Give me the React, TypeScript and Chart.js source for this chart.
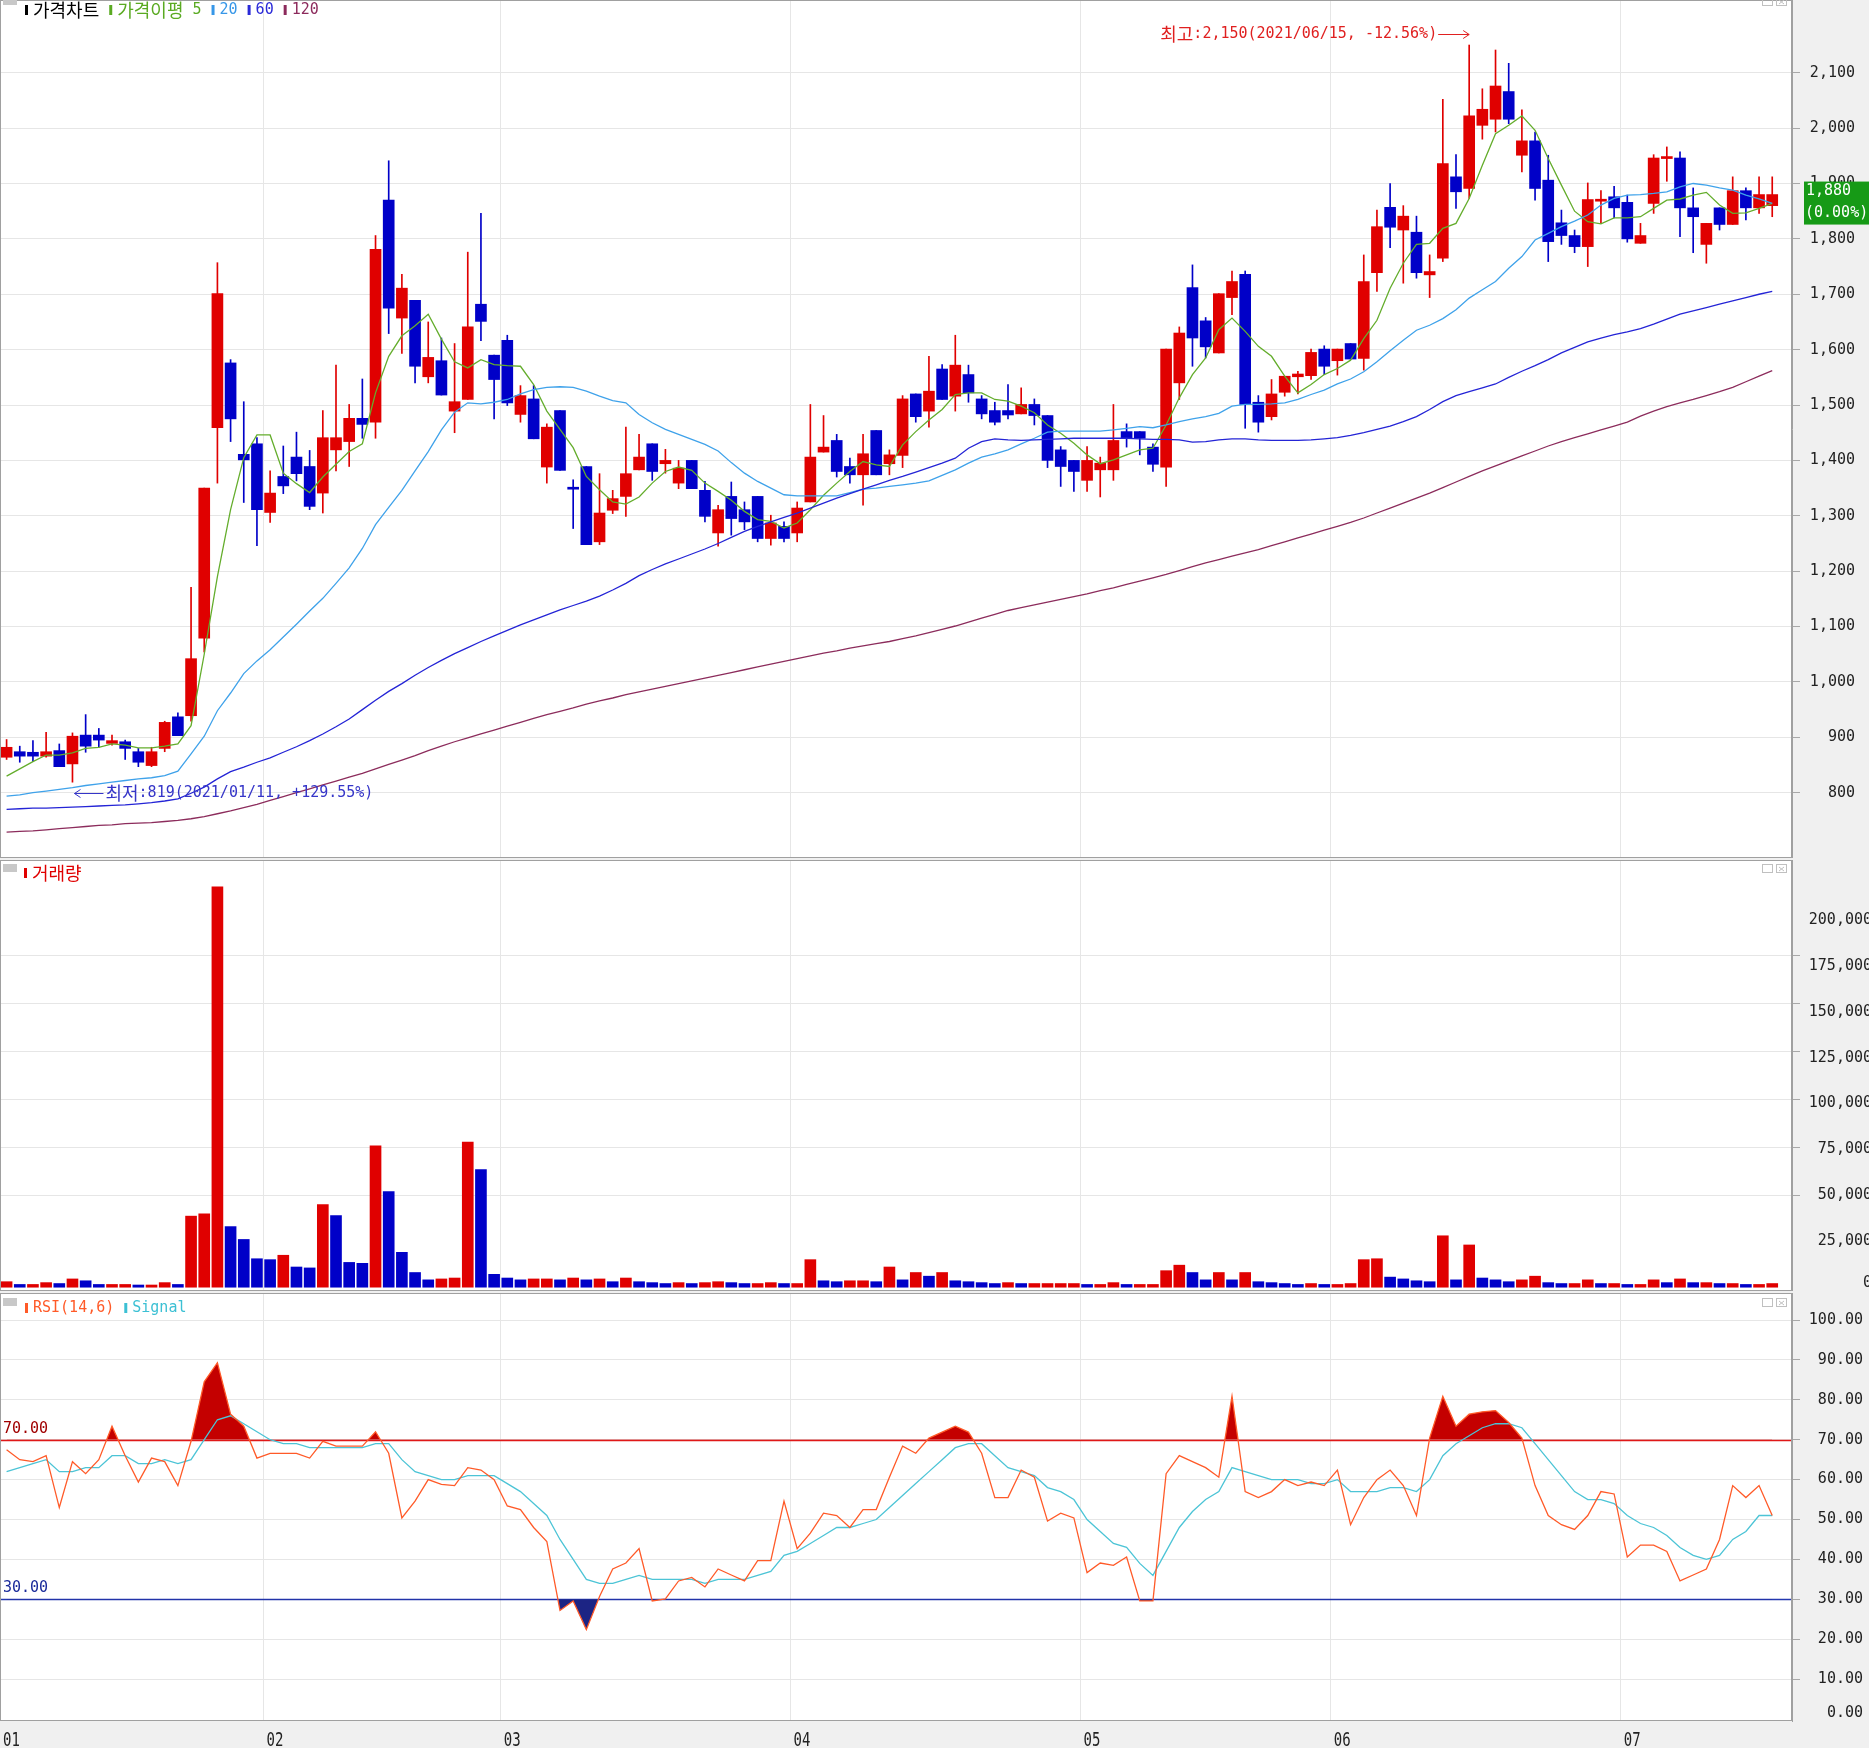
import React, { useEffect, useRef } from "react";
import { Chart, registerables } from "chart.js";

Chart.register(...registerables);

const W = 1869;
const H = 1748;
const PLOT_R = 1792;

// ---------- dates ----------
const janDays = [4, 5, 6, 7, 8, 11, 12, 13, 14, 15, 18, 19, 20, 21, 22, 25, 26, 27, 28, 29];
const febDays = [1, 2, 3, 4, 5, 8, 9, 10, 15, 16, 17, 18, 19, 22, 23, 24, 25, 26];
const marDays = [2, 3, 4, 5, 8, 9, 10, 11, 12, 15, 16, 17, 18, 19, 22, 23, 24, 25, 26, 29, 30, 31];
const aprDays = [1, 2, 5, 6, 7, 8, 9, 12, 13, 14, 15, 16, 19, 20, 21, 22, 23, 26, 27, 28, 29, 30];
const mayDays = [3, 4, 6, 7, 10, 11, 12, 13, 14, 17, 18, 20, 21, 24, 25, 26, 27, 28, 31];
const junDays = [1, 2, 3, 4, 7, 8, 9, 10, 11, 14, 15, 16, 17, 18, 21, 22, 23, 24, 25, 28, 29, 30];
const julDays = [1, 2, 5, 6, 7, 8, 9, 12, 13, 14, 15, 16];
const monthLabels = ["01", "02", "03", "04", "05", "06", "07"];
const monthDays = [janDays, febDays, marDays, aprDays, mayDays, junDays, julDays];

// ---------- price data ----------
const opens = [864, 874, 873, 866, 876, 852, 904, 904, 889, 892, 874, 849, 880, 937, 939, 1079, 1459, 1576, 1411, 1430,
  1306, 1371, 1406, 1389, 1341, 1419, 1434, 1476, 1469, 1870, 1657, 1689, 1551, 1580, 1489, 1510, 1682, 1590, 1617, 1483,
  1511, 1388, 1490, 1349, 1389, 1253, 1310, 1335, 1383, 1430, 1394, 1359, 1400, 1346, 1269, 1335, 1311, 1335, 1259, 1281,
  1269, 1325, 1415, 1436, 1389, 1374, 1454, 1394, 1409, 1520, 1489, 1565, 1516, 1555, 1511, 1490, 1490, 1484, 1501, 1481,
  1419, 1400, 1364, 1383, 1383, 1452, 1452, 1424, 1388, 1540, 1712, 1652, 1594, 1694, 1736, 1505, 1479, 1523, 1551, 1553,
  1601, 1580, 1611, 1584, 1739, 1857, 1816, 1812, 1735, 1765, 1912, 1891, 2005, 2016, 2066, 1951, 1977, 1906, 1829, 1806,
  1786, 1868, 1876, 1866, 1792, 1864, 1945, 1946, 1856, 1790, 1856, 1826, 1887, 1856, 1860];
const highs = [896, 884, 894, 909, 888, 908, 941, 916, 904, 895, 880, 882, 929, 944, 1171, 1350, 1757, 1582, 1506, 1441,
  1381, 1426, 1451, 1418, 1490, 1572, 1501, 1547, 1806, 1941, 1736, 1689, 1650, 1621, 1611, 1776, 1846, 1590, 1626, 1535,
  1535, 1466, 1490, 1365, 1389, 1376, 1346, 1460, 1447, 1430, 1420, 1400, 1400, 1362, 1319, 1361, 1325, 1335, 1301, 1289,
  1325, 1501, 1481, 1447, 1404, 1447, 1454, 1419, 1517, 1520, 1588, 1573, 1626, 1572, 1517, 1505, 1537, 1531, 1511, 1481,
  1425, 1400, 1425, 1406, 1501, 1466, 1452, 1430, 1601, 1641, 1753, 1658, 1701, 1742, 1742, 1517, 1546, 1552, 1561, 1601,
  1607, 1601, 1611, 1771, 1852, 1900, 1860, 1841, 1771, 2052, 1952, 2150, 2071, 2141, 2117, 2033, 1993, 1951, 1852, 1816,
  1901, 1887, 1895, 1879, 1828, 1952, 1966, 1957, 1892, 1828, 1856, 1912, 1892, 1912, 1912];
const lows = [860, 855, 856, 864, 847, 819, 873, 882, 886, 860, 847, 847, 874, 903, 929, 1054, 1359, 1434, 1324, 1246,
  1288, 1340, 1363, 1311, 1305, 1381, 1389, 1440, 1440, 1629, 1593, 1540, 1540, 1518, 1450, 1510, 1616, 1475, 1499, 1469,
  1439, 1359, 1382, 1277, 1248, 1248, 1304, 1299, 1383, 1364, 1377, 1349, 1349, 1289, 1245, 1265, 1275, 1253, 1247, 1253,
  1253, 1325, 1415, 1370, 1359, 1319, 1374, 1374, 1387, 1469, 1460, 1510, 1489, 1505, 1475, 1464, 1475, 1484, 1464, 1387,
  1353, 1344, 1344, 1334, 1364, 1424, 1410, 1380, 1353, 1510, 1570, 1585, 1594, 1663, 1458, 1451, 1473, 1516, 1520, 1546,
  1555, 1554, 1583, 1563, 1705, 1784, 1720, 1729, 1694, 1759, 1855, 1873, 1980, 1993, 2008, 1921, 1870, 1759, 1790, 1775,
  1750, 1828, 1838, 1794, 1792, 1846, 1904, 1804, 1775, 1756, 1816, 1826, 1834, 1846, 1840];
const closes = [882, 866, 866, 874, 847, 902, 884, 895, 894, 880, 855, 874, 927, 903, 1042, 1350, 1701, 1475, 1401, 1311,
  1341, 1354, 1376, 1317, 1441, 1441, 1476, 1465, 1781, 1675, 1711, 1570, 1586, 1518, 1506, 1641, 1651, 1546, 1504, 1517,
  1439, 1460, 1382, 1348, 1248, 1305, 1331, 1376, 1406, 1380, 1400, 1386, 1349, 1299, 1311, 1295, 1289, 1259, 1287, 1259,
  1314, 1406, 1424, 1380, 1374, 1412, 1374, 1410, 1511, 1479, 1525, 1510, 1572, 1522, 1484, 1469, 1482, 1501, 1481, 1400,
  1389, 1380, 1400, 1395, 1436, 1440, 1440, 1393, 1601, 1630, 1621, 1605, 1701, 1723, 1501, 1469, 1520, 1552, 1556, 1595,
  1570, 1601, 1583, 1723, 1822, 1821, 1841, 1739, 1741, 1936, 1885, 2022, 2034, 2076, 2016, 1977, 1891, 1795, 1806, 1786,
  1871, 1871, 1856, 1800, 1806, 1946, 1947, 1856, 1840, 1828, 1826, 1887, 1856, 1880, 1880];

// moving averages as drawn on the reference
const ma5 = [830, 843, 856, 868, 868, 872, 880, 882, 888, 886, 881, 881, 884, 888, 921, 1050, 1190, 1311, 1405, 1446,
  1446, 1377, 1358, 1342, 1370, 1393, 1416, 1430, 1522, 1588, 1625, 1643, 1664, 1619, 1578, 1567, 1582, 1573, 1571, 1570,
  1537, 1489, 1456, 1423, 1371, 1347, 1325, 1321, 1334, 1359, 1380, 1388, 1382, 1359, 1344, 1328, 1308, 1293, 1290, 1278,
  1287, 1311, 1337, 1359, 1380, 1398, 1392, 1389, 1428, 1452, 1473, 1492, 1519, 1522, 1522, 1510, 1507, 1498, 1486, 1464,
  1449, 1431, 1410, 1394, 1401, 1410, 1419, 1422, 1464, 1513, 1555, 1585, 1636, 1657, 1633, 1606, 1588, 1552, 1522, 1537,
  1555, 1566, 1581, 1620, 1653, 1711, 1756, 1790, 1792, 1819, 1828, 1873, 1933, 1990, 2005, 2022, 1996, 1945, 1897, 1850,
  1831, 1827, 1838, 1838, 1840, 1855, 1870, 1872, 1879, 1884, 1861, 1846, 1847, 1855, 1864];
const ma20 = [794, 796, 800, 803, 806, 809, 813, 816, 819, 822, 825, 827, 831, 839, 870, 902, 948, 980, 1015, 1038,
  1058, 1081, 1104, 1128, 1151, 1178, 1206, 1241, 1284, 1315, 1346, 1381, 1416, 1455, 1487, 1504, 1502, 1505, 1510, 1520,
  1528, 1532, 1533, 1532, 1525, 1516, 1508, 1504, 1483, 1468, 1456, 1447, 1438, 1429, 1417, 1396, 1377, 1362, 1350, 1338,
  1336, 1336, 1336, 1336, 1342, 1348, 1350, 1353, 1356, 1359, 1363, 1373, 1383, 1395, 1406, 1412, 1419, 1430, 1440, 1451,
  1453, 1453, 1453, 1453, 1455, 1458, 1461, 1459, 1464, 1470, 1475, 1479, 1485, 1498, 1501, 1501, 1502, 1504, 1510, 1519,
  1527, 1538, 1547, 1560, 1578, 1598, 1617, 1635, 1644, 1656, 1672, 1693, 1708, 1723, 1747, 1768, 1798, 1810, 1822, 1832,
  1843, 1861, 1873, 1879, 1880, 1882, 1885, 1894, 1900, 1897, 1892, 1888, 1879, 1872, 1864];
const ma60 = [770, 771, 772, 772, 773, 774, 775, 776, 777, 778, 780, 782, 785, 789, 799, 810, 825, 838, 846, 855,
  863, 873, 883, 894, 906, 919, 933, 950, 967, 983, 997, 1012, 1026, 1039, 1051, 1062, 1073, 1083, 1093, 1103,
  1112, 1121, 1130, 1138, 1146, 1155, 1166, 1178, 1192, 1203, 1213, 1222, 1231, 1240, 1250, 1261, 1272, 1281, 1289, 1297,
  1305, 1314, 1323, 1332, 1340, 1348, 1356, 1364, 1371, 1379, 1387, 1395, 1404, 1422, 1434, 1439, 1437, 1436, 1437, 1438,
  1439, 1440, 1440, 1440, 1440, 1440, 1439, 1438, 1438, 1437, 1433, 1434, 1437, 1439, 1439, 1437, 1436, 1436, 1436, 1437,
  1439, 1441, 1445, 1450, 1456, 1462, 1470, 1479, 1492, 1506, 1517, 1524, 1531, 1538, 1550, 1561, 1571, 1582, 1594, 1604,
  1614, 1621, 1627, 1632, 1638, 1646, 1655, 1664, 1670, 1676, 1682, 1688, 1694, 1700, 1705];
const ma120 = [729, 730, 731, 733, 735, 737, 739, 741, 742, 744, 745, 746, 748, 750, 753, 757, 762, 767, 773, 779,
  786, 793, 800, 807, 814, 821, 828, 835, 843, 851, 859, 867, 876, 884, 892, 899, 906, 913, 920, 927,
  934, 941, 947, 953, 960, 966, 971, 977, 982, 987, 992, 997, 1002, 1007, 1012, 1017, 1022, 1027, 1032, 1037,
  1042, 1047, 1052, 1056, 1061, 1065, 1069, 1073, 1078, 1083, 1089, 1095, 1101, 1108, 1115, 1122, 1129, 1134, 1139, 1144,
  1149, 1154, 1159, 1165, 1170, 1176, 1182, 1188, 1194, 1201, 1208, 1215, 1221, 1227, 1233, 1239, 1246, 1253, 1260, 1267,
  1274, 1281, 1288, 1296, 1305, 1314, 1323, 1332, 1341, 1351, 1361, 1371, 1381, 1390, 1399, 1408, 1417, 1426, 1434, 1441,
  1448, 1455, 1462, 1469, 1480, 1489, 1497, 1504, 1510, 1517, 1524, 1532, 1542, 1552, 1562];

// ---------- volume ----------
const volumes = [3000, 1500, 1500, 2500, 2000, 4500, 3500, 1500, 1500, 1500, 1200, 1200, 2500, 1500, 38700, 40000, 218000, 33000, 26000, 15500,
  15000, 17400, 11000, 10500, 45000, 39000, 13500, 13000, 77000, 52000, 19000, 8000, 4000, 4500, 5000, 79000, 64000, 7000, 5000, 4000,
  4500, 4500, 4000, 5000, 4000, 4500, 3000, 5000, 3000, 2500, 2000, 2500, 2000, 2500, 3000, 2500, 2000, 2000, 2500, 2000,
  2000, 15000, 3500, 3000, 3500, 3500, 3000, 11000, 4000, 8000, 6000, 8000, 3500, 3000, 2500, 2000, 2500, 2000, 2000, 2000,
  2000, 2000, 1500, 1500, 2500, 1500, 1500, 1500, 9000, 12000, 8000, 4000, 8000, 4000, 8000, 3000, 2500, 2000, 1500, 2000,
  1500, 1500, 2000, 15000, 15500, 5500, 4500, 3500, 3000, 28000, 4000, 23000, 5000, 4000, 3000, 4000, 6000, 2500, 2000, 2000,
  4000, 2000, 2000, 1500, 1500, 4000, 2500, 4500, 2500, 2500, 2000, 2000, 1500, 1500, 2000];

// ---------- RSI ----------
const rsi = [67.5, 65, 64.5, 66, 53, 64.5, 61.5, 65, 73.4, 66, 59.4, 65.4, 64.5, 58.5, 69.6, 84.5, 89.3, 76.4, 73.4, 65.4,
  66.6, 66.6, 66.6, 65.4, 69.6, 68.4, 68.4, 68.4, 72, 66.6, 50.4, 54.6, 60, 58.8, 58.5, 63, 62.4, 60, 53.4, 52.5,
  48, 44.5, 27.2, 29.6, 22.4, 30.7, 37.6, 39.1, 42.7, 29.6, 30.1, 34.6, 35.5, 33.1, 37.6, 36.1, 34.6, 39.7, 39.7, 54.6,
  42.7, 46.6, 51.6, 51, 48, 52.5, 52.5, 60.6, 68.4, 66.6, 70.4, 71.9, 73.4, 71.9, 66.6, 55.5, 55.5, 62.4, 60.6, 49.6,
  51.6, 50.4, 36.7, 39.1, 38.5, 40.6, 29.6, 29.6, 61.5, 66, 64.5, 63, 60.6, 80.9, 57, 55.5, 57, 60, 58.5, 59.4,
  58.5, 62.4, 48.7, 55.5, 60, 62.4, 58.5, 51, 70.4, 80.9, 73.4, 76.4, 77, 77.3, 74.3, 70.4, 58.5, 51, 48.7, 47.5,
  51, 57, 56.4, 40.6, 43.6, 43.6, 42, 34.6, 36.1, 37.6, 45, 58.5, 55.5, 58.5, 51];
const rsiSignal = [62, 63, 64, 65, 62, 62, 63, 63, 66, 66, 64, 64, 65, 64, 65, 70, 75, 76, 74, 72,
  70, 69, 69, 68, 68, 68, 68, 68, 69, 69, 65, 62, 61, 60, 60, 61, 61, 61, 59, 57,
  54, 51, 45, 40, 35, 34, 34, 35, 36, 35, 35, 35, 35, 34, 35, 35, 35, 36, 37, 41,
  42, 44, 46, 48, 48, 49, 50, 53, 56, 59, 62, 65, 68, 69, 69, 66, 63, 62, 61, 58,
  57, 55, 50, 47, 44, 43, 39, 36, 42, 48, 52, 55, 57, 63, 62, 61, 60, 60, 60, 59,
  59, 60, 57, 57, 57, 58, 58, 57, 60, 66, 69, 71, 73, 74, 74, 73, 69, 65, 61, 57,
  55, 55, 54, 51, 49, 48, 46, 43, 41, 40, 41, 45, 47, 51, 51];

// ---------- axis tick labels ----------
const priceTicks = [800, 900, 1000, 1100, 1200, 1300, 1400, 1500, 1600, 1700, 1800, 1900, 2000, 2100];
const volumeTicks = [0, 25000, 50000, 75000, 100000, 125000, 150000, 175000, 200000];
const rsiTicks = [0, 10, 20, 30, 40, 50, 60, 70, 80, 90, 100];

const dates: string[] = monthDays.flatMap((days, m) =>
  days.map((d) => `2021/${monthLabels[m]}/${String(d).padStart(2, "0")}`)
);
const monthStarts: number[] = [];
{
  let acc = 0;
  monthDays.forEach((d) => { monthStarts.push(acc); acc += d.length; });
}
const xLabels = [...dates, ""];

// ---------- colors ----------
const UP = "#e00000";
const DOWN = "#0000c8";
const C_MA5 = "#64ad2c";
const C_MA20 = "#3fa2ea";
const C_MA60 = "#2424d6";
const C_MA120 = "#8c2c5c";
const GRID = "#e6e6e6";

// ---------- text helpers ----------
const KO_FONT = '18px "Noto Sans CJK KR"';
const EN_FONT = '15px "DejaVu Sans Mono"';

function drawMixed(ctx: any, text: string, x: number, y: number, color: string, align = "left") {
  const runs: any[] = [];
  for (const ch of text) {
    const ko = /[\u1100-\u11ff\u3130-\u318f\uac00-\ud7af]/.test(ch);
    const last = runs[runs.length - 1];
    if (last && last.ko === ko) last.s += ch;
    else runs.push({ ko, s: ch, w: 0 });
  }
  ctx.save();
  ctx.textBaseline = "middle";
  ctx.textAlign = "left";
  ctx.fillStyle = color;
  let total = 0;
  for (const r of runs) {
    ctx.font = r.ko ? KO_FONT : EN_FONT;
    r.w = ctx.measureText(r.s).width;
    total += r.w;
  }
  let cx = align === "right" ? x - total : x;
  for (const r of runs) {
    ctx.font = r.ko ? KO_FONT : EN_FONT;
    ctx.fillText(r.s, cx, y);
    cx += r.w;
  }
  ctx.restore();
  return total;
}

function drawLegend(ctx: any, items: { text: string; color: string }[], x0: number, y: number) {
  let x = x0;
  for (const it of items) {
    ctx.save();
    ctx.fillStyle = it.color;
    ctx.fillRect(x, y - 5, 3, 10);
    ctx.restore();
    x += 8;
    x += drawMixed(ctx, it.text, x, y, it.color) + 10;
  }
}

function drawArrow(ctx: any, xFrom: number, xTo: number, y: number, color: string) {
  ctx.save();
  ctx.strokeStyle = color;
  ctx.lineWidth = 1;
  ctx.beginPath();
  ctx.moveTo(xFrom, y + 0.5);
  ctx.lineTo(xTo, y + 0.5);
  const d = xTo > xFrom ? -1 : 1;
  ctx.moveTo(xTo + d * 6, y - 4 + 0.5);
  ctx.lineTo(xTo, y + 0.5);
  ctx.lineTo(xTo + d * 6, y + 4 + 0.5);
  ctx.stroke();
  ctx.restore();
}

function drawIcons(ctx: any, top: number) {
  ctx.save();
  ctx.fillStyle = "#c8c8c8";
  ctx.fillRect(3, top, 14, 8);
  ctx.strokeStyle = "#c0c0c0";
  ctx.lineWidth = 1;
  ctx.strokeRect(PLOT_R - 29.5, top + 0.5, 10, 8);
  ctx.strokeRect(PLOT_R - 15.5, top + 0.5, 10, 8);
  ctx.beginPath();
  ctx.moveTo(PLOT_R - 13, top + 3);
  ctx.lineTo(PLOT_R - 8, top + 7);
  ctx.moveTo(PLOT_R - 8, top + 3);
  ctx.lineTo(PLOT_R - 13, top + 7);
  ctx.stroke();
  ctx.restore();
}

function paintArea(chart: any) {
  const { ctx, chartArea: a } = chart;
  ctx.save();
  ctx.fillStyle = "#ffffff";
  ctx.fillRect(a.left, a.top, a.right - a.left, a.bottom - a.top);
  ctx.restore();
}

function strokeArea(chart: any) {
  const { ctx, chartArea: a } = chart;
  ctx.save();
  ctx.strokeStyle = "#a0a0a0";
  ctx.lineWidth = 1;
  ctx.strokeRect(a.left + 0.5, a.top + 0.5, a.right - a.left - 1, a.bottom - a.top - 1);
  ctx.restore();
}

function drawYLabels(chart: any, ticks: number[], fmt: (v: number) => string, xRight: number) {
  const { ctx, chartArea: a } = chart;
  const ys = chart.scales.y;
  ctx.save();
  ctx.font = EN_FONT;
  ctx.fillStyle = "#222";
  ctx.textAlign = "right";
  ctx.textBaseline = "middle";
  for (const v of ticks) {
    let y = ys.getPixelForValue(v);
    y = Math.max(a.top + 8, Math.min(a.bottom - 8, y));
    ctx.fillText(fmt(v), xRight, y);
  }
  ctx.restore();
}

const fmtComma = (v: number) => v.toLocaleString("en-US");

// ---------- shared options ----------
function baseScales(yMin: number, yMax: number, step: number, gLo: number, gHi: number, xHeight: number) {
  return {
    x: {
      type: "category",
      offset: true,
      ticks: { display: false, autoSkip: false },
      grid: {
        offset: true,
        drawTicks: false,
        color: (c: any) => (c.index !== undefined && monthStarts.includes(c.index) && c.index > 0 ? GRID : "rgba(0,0,0,0)"),
      },
      border: { display: false },
      afterFit: (s: any) => { s.height = xHeight; },
    },
    y: {
      position: "right",
      min: yMin,
      max: yMax,
      ticks: { display: false, stepSize: step, includeBounds: false },
      grid: {
        drawTicks: true,
        tickLength: 8,
        color: (c: any) => (c.tick && c.tick.value >= gLo && c.tick.value <= gHi ? GRID : "rgba(0,0,0,0)"),
        tickColor: (c: any) => (c.tick && c.tick.value >= gLo - 1 && c.tick.value <= gHi ? "#a8a8a8" : "rgba(0,0,0,0)"),
      },
      border: { display: true, color: "#a0a0a0" },
      afterFit: (s: any) => { s.width = W - PLOT_R; },
    },
  };
}

const common = {
  responsive: false,
  maintainAspectRatio: false,
  animation: false,
  events: [],
  layout: { padding: 0 },
};

// ---------- chart builders ----------
function buildPrice(): any {
  const isUp = (i: number) => closes[i] >= opens[i];
  const col = (c: any) => (isUp(c.dataIndex) ? UP : DOWN);
  const hiVal = Math.max(...highs);
  const loVal = Math.min(...lows);
  const hiIdx = highs.indexOf(hiVal);
  const loIdx = lows.indexOf(loVal);
  const last = closes[closes.length - 1];
  const prev = closes[closes.length - 2];

  const decor = {
    id: "priceDecor",
    beforeDraw: (chart: any) => paintArea(chart),
    afterDraw: (chart: any) => {
      const { ctx } = chart;
      const xs = chart.scales.x;
      const ys = chart.scales.y;
      strokeArea(chart);
      drawYLabels(chart, priceTicks, fmtComma, 1855);
      // high annotation
      const hx = xs.getPixelForValue(hiIdx);
      const hy = ys.getPixelForValue(hiVal) - 11;
      const hp = (((last - hiVal) / hiVal) * 100).toFixed(2);
      const hText = `최고:${fmtComma(hiVal)}(${dates[hiIdx]}, ${hp}%)`;
      drawMixed(ctx, hText, hx - 32, hy, "#e02020", "right");
      drawArrow(ctx, hx - 31, hx, Math.round(hy), "#e02020");
      // low annotation
      const lx = xs.getPixelForValue(loIdx);
      const ly = ys.getPixelForValue(loVal) + 11;
      const lp = (((last - loVal) / loVal) * 100).toFixed(2);
      const lText = `최저:${loVal}(${dates[loIdx]}, +${lp}%)`;
      drawArrow(ctx, lx + 31, lx + 2, Math.round(ly), "#3535c8");
      drawMixed(ctx, lText, lx + 33, ly, "#3535c8");
      // current price box
      const cy = ys.getPixelForValue(last);
      ctx.save();
      ctx.fillStyle = "#169a16";
      ctx.fillRect(PLOT_R + 12, cy - 13, W - PLOT_R - 12, 43);
      ctx.restore();
      const chg = (((last - prev) / prev) * 100).toFixed(2);
      drawMixed(ctx, fmtComma(last), PLOT_R + 14, cy - 3, "#ffffff");
      drawMixed(ctx, `(${chg}%)`, PLOT_R + 13, cy + 19, "#ffffff");
      // legend
      drawIcons(ctx, -3);
      drawLegend(ctx, [
        { text: "가격차트", color: "#000000" },
        { text: "가격이평 5", color: "#5aaa22" },
        { text: "20", color: "#3797e8" },
        { text: "60", color: "#2a2ad8" },
        { text: "120", color: "#8c2a5c" },
      ], 25, 10);
    },
  };

  const line = (label: string, data: number[], color: string) => ({
    type: "line",
    label,
    data,
    borderColor: color,
    borderWidth: 1.3,
    pointRadius: 0,
    tension: 0,
    order: 0,
  });

  return {
    type: "bar",
    data: {
      labels: xLabels,
      datasets: [
        line("120", ma120, C_MA120),
        line("60", ma60, C_MA60),
        line("20", ma20, C_MA20),
        line("5", ma5, C_MA5),
        {
          type: "bar",
          label: "body",
          data: opens.map((o, i) => [o, closes[i]]),
          backgroundColor: col,
          barThickness: 11,
          minBarLength: 2,
          grouped: false,
          order: 2,
        },
        {
          type: "bar",
          label: "wick",
          data: lows.map((l, i) => [l, highs[i]]),
          backgroundColor: col,
          barThickness: 1,
          grouped: false,
          order: 3,
        },
      ],
    },
    options: {
      ...common,
      plugins: { legend: { display: false }, tooltip: { enabled: false } },
      scales: baseScales(682.1, 2231.3, 100, 800, 2100, 0),
    },
    plugins: [decor],
  };
}

function buildVolume(): any {
  const col = (c: any) => {
    const i = c.dataIndex;
    return i === 0 || volumes[i] >= volumes[i - 1] ? UP : DOWN;
  };
  const decor = {
    id: "volDecor",
    beforeDraw: (chart: any) => paintArea(chart),
    afterDraw: (chart: any) => {
      const { ctx } = chart;
      strokeArea(chart);
      drawYLabels(chart, volumeTicks, fmtComma, 1872);
      drawIcons(ctx, 4);
      drawLegend(ctx, [{ text: "거래량", color: "#e00000" }], 24, 13);
    },
  };
  return {
    type: "bar",
    data: {
      labels: xLabels,
      datasets: [
        {
          label: "거래량",
          data: volumes,
          backgroundColor: col,
          barThickness: 11,
        },
      ],
    },
    options: {
      ...common,
      plugins: { legend: { display: false }, tooltip: { enabled: false } },
      scales: baseScales(-2064, 232591, 25000, 25000, 200000, 0),
    },
    plugins: [decor],
  };
}

function buildRsi(): any {
  const decor = {
    id: "rsiDecor",
    beforeDraw: (chart: any) => paintArea(chart),
    beforeDatasetsDraw: (chart: any) => {
      const { ctx, chartArea: a } = chart;
      const ys = chart.scales.y;
      ctx.save();
      ctx.lineWidth = 1.5;
      ctx.strokeStyle = "#e01818";
      const y70 = Math.round(ys.getPixelForValue(70)) + 0.5;
      ctx.beginPath(); ctx.moveTo(a.left, y70); ctx.lineTo(a.right, y70); ctx.stroke();
      ctx.strokeStyle = "#2438b0";
      const y30 = Math.round(ys.getPixelForValue(30)) + 0.5;
      ctx.beginPath(); ctx.moveTo(a.left, y30); ctx.lineTo(a.right, y30); ctx.stroke();
      ctx.restore();
    },
    afterDraw: (chart: any) => {
      const { ctx, chartArea: a } = chart;
      const xs = chart.scales.x;
      const ys = chart.scales.y;
      strokeArea(chart);
      drawYLabels(chart, rsiTicks, (v) => v.toFixed(2), 1863);
      drawMixed(ctx, "70.00", 3, ys.getPixelForValue(70) - 11, "#a00000");
      drawMixed(ctx, "30.00", 3, ys.getPixelForValue(30) - 11, "#1a2a9a");
      drawIcons(ctx, 5);
      drawLegend(ctx, [
        { text: "RSI(14,6)", color: "#ff5a28" },
        { text: "Signal", color: "#3cc0d4" },
      ], 25, 15);
      // month labels
      const slot = xs.getPixelForValue(1) - xs.getPixelForValue(0);
      ctx.save();
      ctx.fillStyle = "#222";
      ctx.font = '20px "DejaVu Sans Mono"';
      ctx.textBaseline = "middle";
      ctx.textAlign = "left";
      monthStarts.forEach((idx, m) => {
        const gx = xs.getPixelForValue(idx) - slot / 2;
        ctx.save();
        ctx.translate(gx + 3, a.bottom + 20);
        ctx.scale(0.7, 1);
        ctx.fillText(monthLabels[m], 0, 0);
        ctx.restore();
      });
      ctx.restore();
    },
  };
  const base = { pointRadius: 0, tension: 0, borderWidth: 1.3 };
  return {
    type: "line",
    data: {
      labels: xLabels,
      datasets: [
        {
          ...base,
          label: "hi",
          data: rsi,
          borderWidth: 0,
          borderColor: "rgba(0,0,0,0)",
          fill: { target: { value: 70 }, above: "#c40000", below: "rgba(0,0,0,0)" },
          order: 3,
        },
        {
          ...base,
          label: "lo",
          data: rsi,
          borderWidth: 0,
          borderColor: "rgba(0,0,0,0)",
          fill: { target: { value: 30 }, above: "rgba(0,0,0,0)", below: "#1c2484" },
          order: 3,
        },
        { ...base, label: "Signal", data: rsiSignal, borderColor: "#4cc4d6", fill: false, order: 1 },
        { ...base, label: "RSI(14,6)", data: rsi, borderColor: "#ff5a28", fill: false, order: 0 },
      ],
    },
    options: {
      ...common,
      plugins: { legend: { display: false }, tooltip: { enabled: false } },
      scales: baseScales(-0.5, 106.77, 10, 10, 100, 27),
    },
    plugins: [decor],
  };
}

function ChartCanvas({ top, height, build }: { top: number; height: number; build: () => any }) {
  const ref = useRef<HTMLCanvasElement | null>(null);
  useEffect(() => {
    if (!ref.current) return;
    const chart = new Chart(ref.current, build());
    return () => chart.destroy();
  }, [build]);
  return (
    <canvas
      ref={ref}
      width={W}
      height={height}
      style={{ position: "absolute", left: 0, top, width: W, height, display: "block" }}
    />
  );
}

export default function App() {
  useEffect(() => {
    document.body.style.margin = "0";
  }, []);
  return (
    <div style={{ position: "absolute", left: 0, top: 0, width: W, height: H, background: "#f0f0f0", overflow: "hidden" }}>
      <ChartCanvas top={0} height={858} build={buildPrice} />
      <ChartCanvas top={860} height={431} build={buildVolume} />
      <ChartCanvas top={1293} height={455} build={buildRsi} />
    </div>
  );
}
